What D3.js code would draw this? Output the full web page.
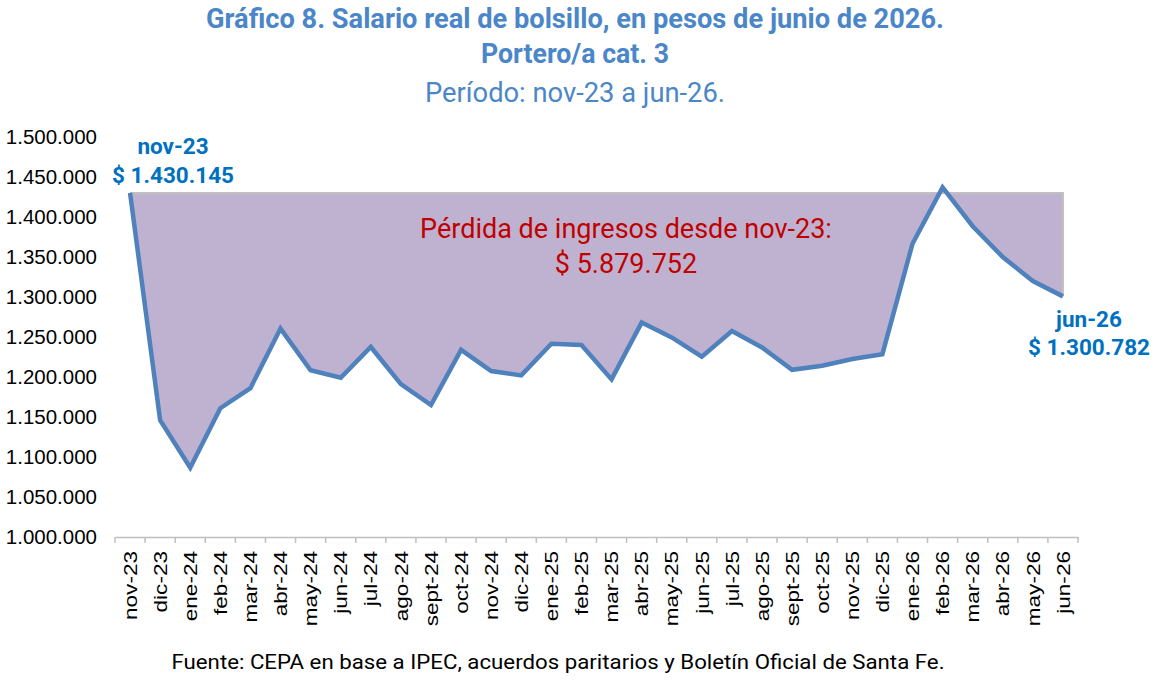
<!DOCTYPE html>
<html>
<head>
<meta charset="utf-8">
<script src="https://cdn.jsdelivr.net/npm/d3@7"></script>
<style>
  html, body { margin: 0; padding: 0; background: #fff; }
  svg { display: block; }
</style>
</head>
<body>
<svg id="chart" width="1159" height="696"></svg>
<script>
const categories = ["nov-23","dic-23","ene-24","feb-24","mar-24","abr-24","may-24","jun-24","jul-24","ago-24","sept-24","oct-24","nov-24","dic-24","ene-25","feb-25","mar-25","abr-25","may-25","jun-25","jul-25","ago-25","sept-25","oct-25","nov-25","dic-25","ene-26","feb-26","mar-26","abr-26","may-26","jun-26"];
const salario = [1430145,1146000,1086500,1161000,1186000,1260500,1208500,1199000,1237500,1191000,1165000,1234000,1207500,1202000,1241500,1240000,1197000,1268000,1249500,1225500,1257500,1237000,1209000,1214000,1222500,1228500,1366500,1437000,1388500,1350000,1320000,1300782];
const referencia = 1430145;
const yTicks = [1000000,1050000,1100000,1150000,1200000,1250000,1300000,1350000,1400000,1450000,1500000];
const titleLines = ["Gráfico 8. Salario real de bolsillo, en pesos de junio de 2026.","Portero/a cat. 3","Período: nov-23 a jun-26."];
const perdidaLines = ["Pérdida de ingresos desde nov-23:","$ 5.879.752"];
const inicioLines = ["nov-23","$ 1.430.145"];
const finLines = ["jun-26","$ 1.300.782"];
const fuente = "Fuente: CEPA en base a IPEC, acuerdos paritarios y Boletín Oficial de Santa Fe.";

const svg = d3.select("#chart");
const font = "Roboto, 'Liberation Sans', Arial, sans-serif";
const axisFont = "'Liberation Sans', Arial, sans-serif";

const x = d3.scaleBand().domain(categories).range([115, 1078]).padding(0);
const y = d3.scaleLinear().domain([1000000, 1500000]).range([537, 137]);
const cx = c => x(c) + x.bandwidth() / 2;

const data = categories.map((c, i) => ({c, v: salario[i]}));

// Title
const titleY = [28, 63, 102];
const titleW = [738, 188, 300];
titleLines.forEach((t, i) => {
  svg.append("text")
    .attr("x", 575).attr("y", titleY[i])
    .attr("text-anchor", "middle")
    .attr("fill", "#4a86c8")
    .attr("font-family", font)
    .attr("font-size", 27)
    .attr("font-weight", i < 2 ? 700 : 400)
    .attr("textLength", titleW[i])
    .attr("lengthAdjust", "spacingAndGlyphs")
    .text(t);
});

// Clip for the area (only below reference)
svg.append("clipPath").attr("id", "below")
  .append("rect")
  .attr("x", 0).attr("y", y(referencia))
  .attr("width", 1159).attr("height", 696);

const area = d3.area()
  .x(d => cx(d.c))
  .y0(y(referencia))
  .y1(d => y(d.v));

svg.append("path")
  .datum(data)
  .attr("clip-path", "url(#below)")
  .attr("d", area)
  .attr("fill", "#bfb1d0");

// Reference border (top and right edge)
const last = data[data.length - 1];
svg.append("path")
  .attr("d", d3.line()([[cx(categories[0]), y(referencia)], [cx(last.c), y(referencia)], [cx(last.c), y(last.v)]]))
  .attr("fill", "none")
  .attr("stroke", "#c0c0c0")
  .attr("stroke-width", 2);

// Y axis labels
svg.append("g")
  .selectAll("text")
  .data(yTicks)
  .join("text")
  .attr("x", 97)
  .attr("y", d => y(d))
  .attr("dy", "0.35em")
  .attr("text-anchor", "end")
  .attr("font-family", axisFont)
  .attr("font-size", 20.5)
  .attr("fill", "#000")
  .text(d => d3.format(",")(d).replace(/,/g, "."));

// X axis
const xAxis = d3.axisBottom(x).tickSize(0).tickFormat(d => d);
const gx = svg.append("g").attr("transform", "translate(0,537)").call(xAxis);
gx.select(".domain").attr("stroke", "#bfbfbf").attr("stroke-width", 1.5);
gx.selectAll(".tick text")
  .attr("font-family", axisFont)
  .attr("font-size", 18.5)
  .attr("fill", "#000")
  .attr("transform", "rotate(-90)")
  .attr("text-anchor", "end")
  .attr("x", -14)
  .attr("y", 0)
  .attr("dy", "0.36em")
  .each(function() {
    const w = this.getComputedTextLength();
    d3.select(this).attr("textLength", w * 1.22).attr("lengthAdjust", "spacingAndGlyphs");
  });
// tick marks at band boundaries
const bounds = categories.map(c => x(c)).concat([x(categories[categories.length - 1]) + x.bandwidth()]);
svg.append("g").selectAll("line")
  .data(bounds)
  .join("line")
  .attr("x1", d => d).attr("x2", d => d)
  .attr("y1", 537).attr("y2", 543)
  .attr("stroke", "#bfbfbf").attr("stroke-width", 1.5);

// Line
svg.append("path")
  .datum(data)
  .attr("d", d3.line().x(d => cx(d.c)).y(d => y(d.v)))
  .attr("fill", "none")
  .attr("stroke", "#4f81bd")
  .attr("stroke-width", 4.5)
  .attr("stroke-linejoin", "miter");

// Annotations
inicioLines.forEach((t, i) => {
  svg.append("text")
    .attr("x", 173).attr("y", [154, 183][i])
    .attr("text-anchor", "middle")
    .attr("fill", "#0070c0")
    .attr("font-family", font)
    .attr("font-weight", 700)
    .attr("font-size", 22.5)
    .text(t);
});
finLines.forEach((t, i) => {
  svg.append("text")
    .attr("x", 1089).attr("y", [327, 355][i])
    .attr("text-anchor", "middle")
    .attr("fill", "#0070c0")
    .attr("font-family", font)
    .attr("font-weight", 700)
    .attr("font-size", 22.5)
    .text(t);
});
perdidaLines.forEach((t, i) => {
  svg.append("text")
    .attr("x", 626).attr("y", [238, 273][i])
    .attr("text-anchor", "middle")
    .attr("fill", "#c00000")
    .attr("font-family", font)
    .attr("font-size", 27)
    .text(t);
});

// Source
svg.append("text")
  .attr("x", 558).attr("y", 669)
  .attr("text-anchor", "middle")
  .attr("fill", "#000")
  .attr("font-family", font)
  .attr("font-size", 20)
  .attr("textLength", 773)
  .attr("lengthAdjust", "spacingAndGlyphs")
  .text(fuente);
</script>
</body>
</html>
